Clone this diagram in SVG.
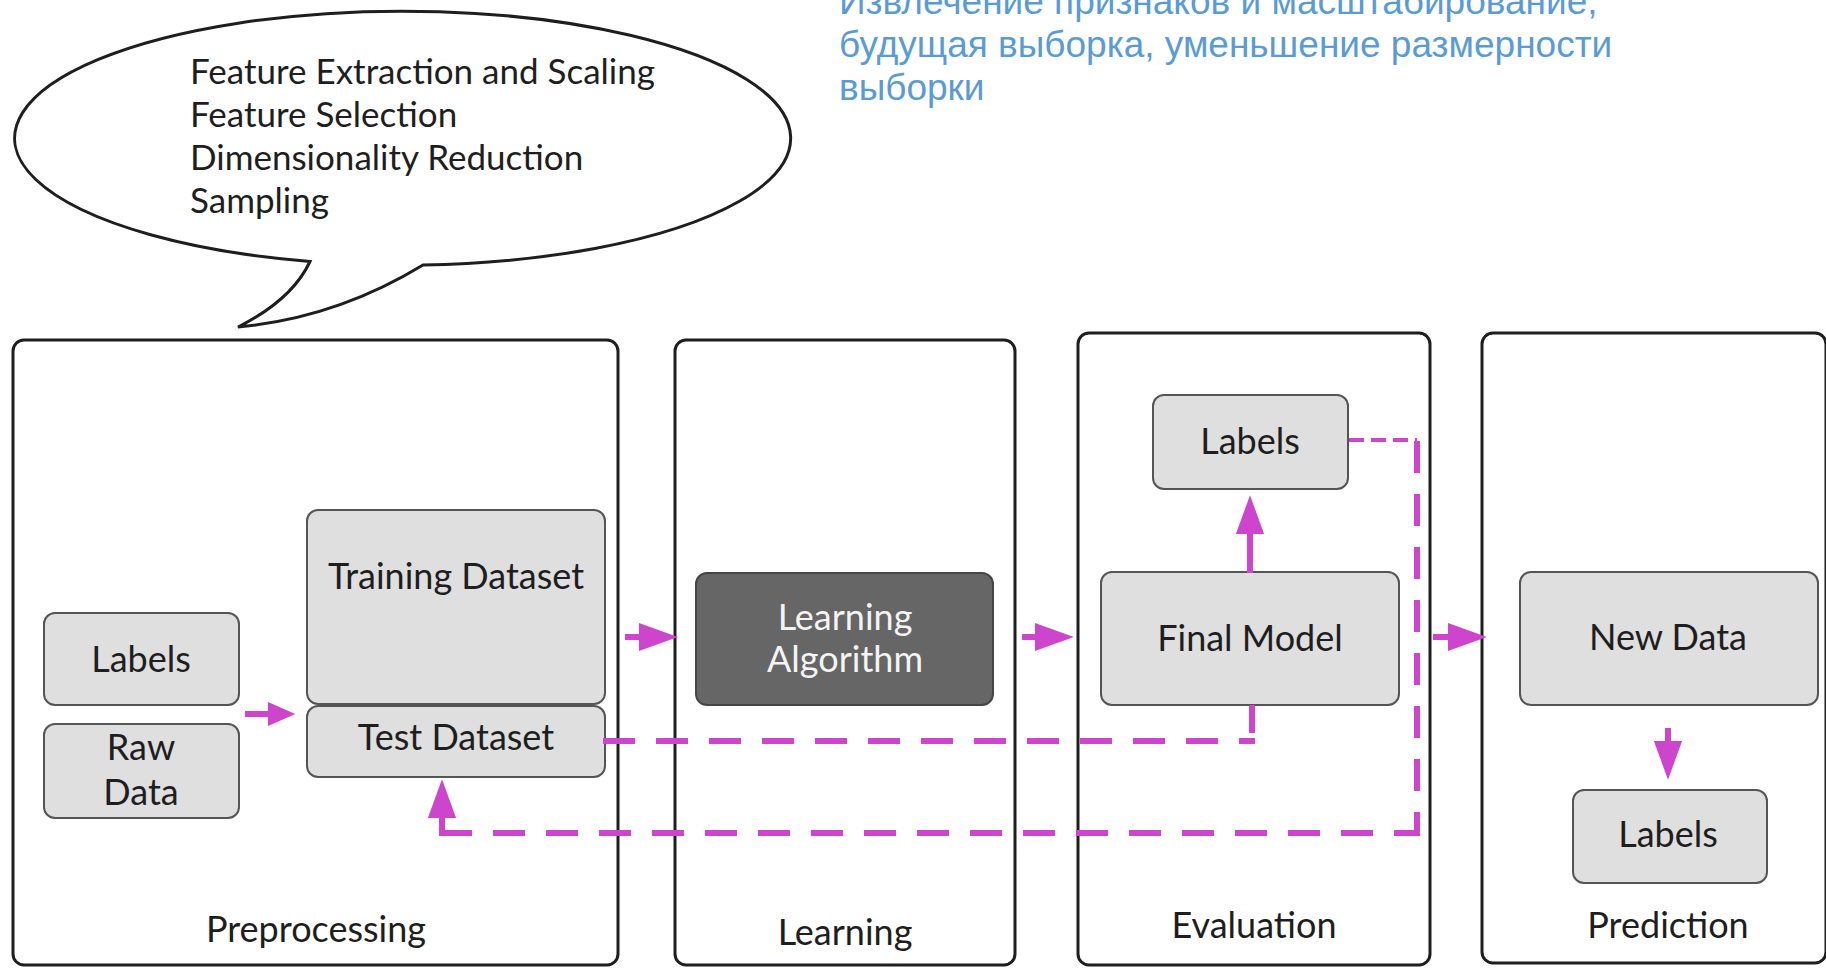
<svg xmlns="http://www.w3.org/2000/svg" width="1826" height="968" viewBox="0 0 1826 968">
<style>
.stage{fill:#ffffff;stroke:#1e1e1e;stroke-width:3}
.box{fill:#dfdfdf;stroke:#555555;stroke-width:2}
.dark{fill:#666666;stroke:#454545;stroke-width:2}
.t{font-family:Lato,"Liberation Sans",sans-serif;font-size:36px;fill:#1e1e1e;text-anchor:middle}
.tw{font-family:Lato,"Liberation Sans",sans-serif;font-size:36px;fill:#f4f4f4;text-anchor:middle}
.bub{font-family:Lato,"Liberation Sans",sans-serif;font-size:35px;fill:#1e1e1e}
.ru{font-family:"Liberation Sans",Arial,sans-serif;font-size:37px;fill:#5b9bd5}
.arr{stroke:#cd45cd;stroke-width:6;fill:none}
.dash{stroke:#cd45cd;stroke-width:6;fill:none;stroke-dasharray:32 21}
.dthin{stroke:#cd45cd;stroke-width:4;fill:none;stroke-dasharray:15 7}
</style>
<defs>
<marker id="head" markerUnits="userSpaceOnUse" markerWidth="40" markerHeight="30" refX="0" refY="12" orient="auto" viewBox="0 0 34 24">
<path d="M0,0 L33,12 L0,24 Z" fill="#cd45cd"/>
</marker>
<marker id="headS" markerUnits="userSpaceOnUse" markerWidth="30" markerHeight="24" refX="0" refY="11" orient="auto" viewBox="0 0 25 22">
<path d="M0,0 L25,11 L0,22 Z" fill="#cd45cd"/>
</marker>
</defs>
<rect width="1826" height="968" fill="#ffffff"/>

<g id="bubble">
<path d="M423,265 A388,127 0 1 0 310,261.5 Q292,300 238,327 Q336,318 423,265 Z" fill="#ffffff" stroke="#1e1e1e" stroke-width="3"/>
<text class="bub" x="190" y="84">Feature Extraction and Scaling</text>
<text class="bub" x="190" y="127">Feature Selection</text>
<text class="bub" x="190" y="170">Dimensionality Reduction</text>
<text class="bub" x="190" y="213">Sampling</text>
</g>

<g id="russian-note">
<text class="ru" x="839" y="14">Извлечение признаков и масштабирование,</text>
<text class="ru" x="839" y="57">будущая выборка, уменьшение размерности</text>
<text class="ru" x="839" y="100">выборки</text>
</g>

<g id="preprocessing">
<rect class="stage" x="13" y="340" width="605" height="625" rx="11"/>
<text class="t" x="316" y="942">Preprocessing</text>
</g>
<g id="learning">
<rect class="stage" x="675" y="340" width="340" height="625" rx="11"/>
<text class="t" x="845" y="945">Learning</text>
</g>
<g id="evaluation">
<rect class="stage" x="1078" y="333" width="352" height="632" rx="11"/>
<text class="t" x="1254" y="938">Evaluation</text>
</g>
<g id="prediction">
<rect class="stage" x="1482" y="333" width="344" height="630" rx="11"/>
<text class="t" x="1668" y="938">Prediction</text>
</g>

<g id="pre-labels">
<rect class="box" x="44" y="613" width="195" height="92" rx="11"/>
<text class="t" x="141" y="672">Labels</text>
</g>
<g id="raw-data">
<rect class="box" x="44" y="724" width="195" height="94" rx="11"/>
<text class="t" x="141" y="760">Raw</text>
<text class="t" x="141" y="805">Data</text>
</g>
<g id="training-dataset">
<rect class="box" x="307" y="510" width="298" height="194" rx="11"/>
<text class="t" x="456" y="589">Training Dataset</text>
</g>
<g id="test-dataset">
<rect class="box" x="307" y="706" width="298" height="71" rx="11"/>
<text class="t" x="456" y="750">Test Dataset</text>
</g>
<g id="learning-algorithm">
<rect class="dark" x="696" y="573" width="297" height="132" rx="11"/>
<text class="tw" x="845" y="630">Learning</text>
<text class="tw" x="845" y="672">Algorithm</text>
</g>
<g id="eval-labels">
<rect class="box" x="1153" y="395" width="195" height="94" rx="11"/>
<text class="t" x="1250" y="454">Labels</text>
</g>
<g id="final-model">
<rect class="box" x="1101" y="572" width="298" height="133" rx="11"/>
<text class="t" x="1250" y="651">Final Model</text>
</g>
<g id="new-data">
<rect class="box" x="1520" y="572" width="298" height="133" rx="11"/>
<text class="t" x="1668" y="650">New Data</text>
</g>
<g id="pred-labels">
<rect class="box" x="1573" y="790" width="194" height="93" rx="11"/>
<text class="t" x="1668" y="847">Labels</text>
</g>

<g id="connectors">
<path class="arr" d="M245,714 H268" marker-end="url(#headS)"/>
<path class="arr" d="M625,637 H639" marker-end="url(#head)"/>
<path class="arr" d="M1022,637 H1035" marker-end="url(#head)"/>
<path class="arr" d="M1433,637 H1448" marker-end="url(#head)"/>
<path class="arr" d="M1250,573 V534" marker-end="url(#head)"/>
<path class="arr" d="M1668,728 V741" marker-end="url(#head)"/>
<path class="dash" d="M603,741 H1255"/>
<path class="arr" d="M1252,733 V705"/>
<path class="dthin" d="M1349,440 H1417"/>
<path class="dash" style="stroke-dashoffset:8" d="M1417,836 V438"/>
<path class="dash" d="M493,833 H1420"/>
<path class="arr" d="M472,833 H442 V818" marker-end="url(#head)"/>
</g>
</svg>
